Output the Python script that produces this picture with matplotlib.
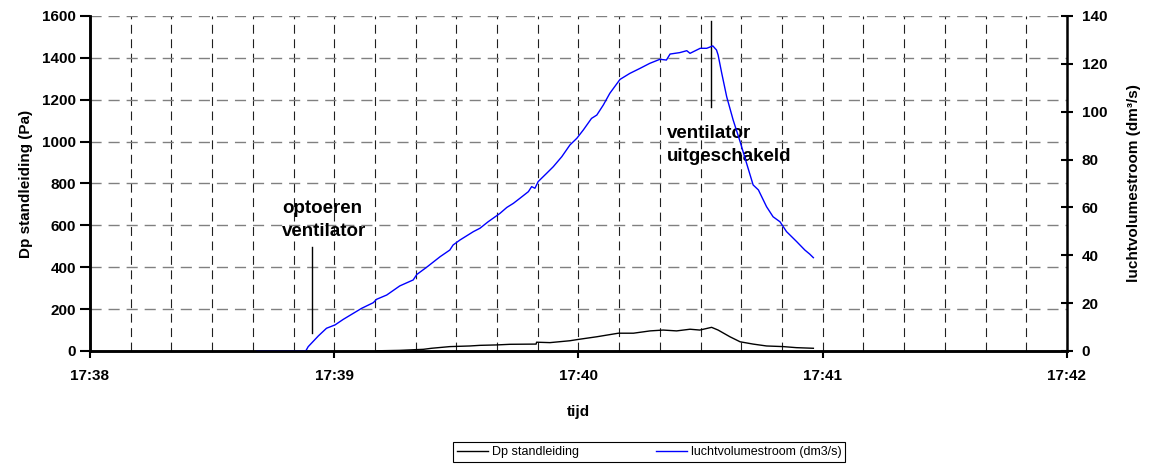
import pandas as pd
import matplotlib
matplotlib.use("Agg")
import matplotlib.pyplot as plt
import matplotlib.dates as mdates

plt.rcParams['font.family'] = ['Liberation Sans', 'DejaVu Sans']

# measurement start (clock time), samples are seconds after this moment
t0 = "2000-01-01 17:38:00"

# luchtvolumestroom (dm3/s), right axis
flow_sec = [41, 53, 53.6, 56.1, 58.1, 60.2, 62.2, 66.7, 69.6, 70.4, 72.9, 76.1, 79.4,
            80.3, 82.7, 86.0, 88.4, 89.2, 90.9, 94.2, 95.8, 97.8, 100.7, 102.4, 104.0,
            105.6, 107.7, 108.5, 109.3, 110.1, 112.2, 113.8, 115.9, 117.9, 119.6, 121.2,
            123.2, 124.5, 126.1, 127.7, 130.2, 132.6, 135.1, 137.5, 140.0, 141.6, 142.5,
            144.9, 146.6, 147.4, 149.9, 151.5, 153.0, 153.9, 154.3, 155.2, 156.4, 158.0,
            159.7, 161.3, 162.9, 164.2, 166.2, 167.8, 169.5, 171.1, 173.6, 175.6, 176.8,
            177.7]
flow_val = [0, 0, 1.8, 6.3, 9.5, 10.9, 13.2, 17.8, 20.2, 21.6, 23.4, 27.2, 29.7,
            32.0, 35.0, 39.4, 42.2, 44.3, 46.4, 49.9, 51.3, 54.0, 57.5, 60.0, 61.7,
            63.8, 66.6, 68.7, 68.0, 70.8, 74.3, 77.0, 81.2, 86.1, 88.9, 92.4,
            97.2, 98.6, 102.8, 107.7, 113.5, 116.0, 118.1, 120.2, 121.9, 121.6, 124.1,
            124.7, 125.5, 124.4, 126.5, 126.5, 127.5, 125.8, 123.7, 116.0, 106.3, 96.5,
            87.5, 78.4, 69.4, 67.3, 60.3, 56.1, 54.0, 49.9, 45.7, 42.2, 40.5,
            39.0]

# Dp standleiding (Pa), left axis
dp_sec = [70.5, 76, 81.9, 83.9, 88.4, 93.3, 95.8, 99.9, 103.2, 109.6, 109.7, 113.0,
          117.9, 120.2, 124.5, 129.8, 133.5, 137.6, 140.8, 144.1, 147.4, 149.8, 152.7,
          154.3, 157.2, 159.7, 162.9, 166.2, 170.3, 173.5, 177.7]
dp_val = [1, 3, 8, 13, 21, 24, 27, 29, 32, 33, 42, 40,
          49, 56, 68, 85, 85, 96, 100, 96, 104, 100, 113,
          100, 68, 44, 33, 24, 21, 16, 13]

start = pd.Timestamp(t0)
flow_t = start + pd.to_timedelta(flow_sec, unit='s')
dp_t = start + pd.to_timedelta(dp_sec, unit='s')

fig = plt.figure(figsize=(11.55, 4.69), dpi=100)
ax = fig.add_axes([0.0779, 0.2516, 0.8459, 0.7143])
ax2 = ax.twinx()

l1, = ax.plot(dp_t, dp_val, color='black', lw=1, label='Dp standleiding')
l2, = ax2.plot(flow_t, flow_val, color='#0000FF', lw=1, label='luchtvolumestroom (dm3/s)')

ax.set_xlim(start, start + pd.Timedelta(minutes=4))
ax.set_ylim(0, 1600)
ax2.set_ylim(0, 140)
ax.set_yticks(range(0, 1601, 200))
ax2.set_yticks(range(0, 141, 20))

ax.xaxis.set_major_locator(mdates.MinuteLocator())
ax.xaxis.set_major_formatter(mdates.DateFormatter('%H:%M'))
ax.xaxis.set_minor_locator(mdates.SecondLocator(bysecond=[10, 20, 30, 40, 50]))

# grid: grey dashed horizontals, dark dashed verticals every 10 s
ax.grid(True, axis='y', color='#808080', ls=(0, (8, 5)), lw=1)
ax.grid(True, axis='x', which='both', color='#202020', ls=(0, (8, 5)), lw=0.8)

for a in (ax, ax2):
    a.spines['top'].set_visible(False)
    for s in ('left', 'right', 'bottom'):
        a.spines[s].set_linewidth(1.8)
ax.spines['right'].set_visible(False)

bold = dict(fontweight='bold', fontsize=11)
ax.tick_params(axis='x', which='major', direction='out', length=5, width=1.5, pad=8)
ax.tick_params(axis='x', which='minor', length=0)
ax.tick_params(axis='y', direction='out', length=7, width=1.5, pad=3)
ax2.tick_params(axis='y', direction='inout', length=9, width=1.5, pad=6)
for lab in ax.get_xticklabels() + ax.get_yticklabels() + ax2.get_yticklabels():
    lab.set_fontweight('bold')
    lab.set_fontsize(11)

ax.set_xlabel('tijd', **bold)
ax.xaxis.set_label_coords(0.5, -0.16)
ax.set_ylabel('Dp standleiding (Pa)', **bold)
ax.yaxis.set_label_coords(-0.058, 0.5)
ax2.set_ylabel('luchtvolumestroom (dm³/s)', **bold)
ax2.yaxis.set_label_coords(1.061, 0.5)

# annotations
ax.plot([start + pd.Timedelta(seconds=54.5)] * 2, [86, 497], color='black', lw=1)
ax.text(start + pd.Timedelta(seconds=47.2), 626, 'optoeren\nventilator',
        fontsize=13.5, fontweight='bold', ha='left', va='center', linespacing=1.45)
ax.plot([start + pd.Timedelta(seconds=152.5)] * 2, [1165, 1576], color='black', lw=1)
ax.text(start + pd.Timedelta(seconds=141.7), 985, 'ventilator\nuitgeschakeld',
        fontsize=13.5, fontweight='bold', ha='left', va='center', linespacing=1.45)

leg = fig.legend([l1, l2], [l1.get_label(), l2.get_label()], loc='center',
                 bbox_to_anchor=(0.562, 0.036), ncol=2, fontsize=9,
                 frameon=True, fancybox=False, framealpha=1, edgecolor='black',
                 handlelength=2.5, handletextpad=0.3, columnspacing=6.2,
                 borderpad=0.3, borderaxespad=0)
leg.get_frame().set_linewidth(0.8)

fig.savefig('out.png', dpi=100)
